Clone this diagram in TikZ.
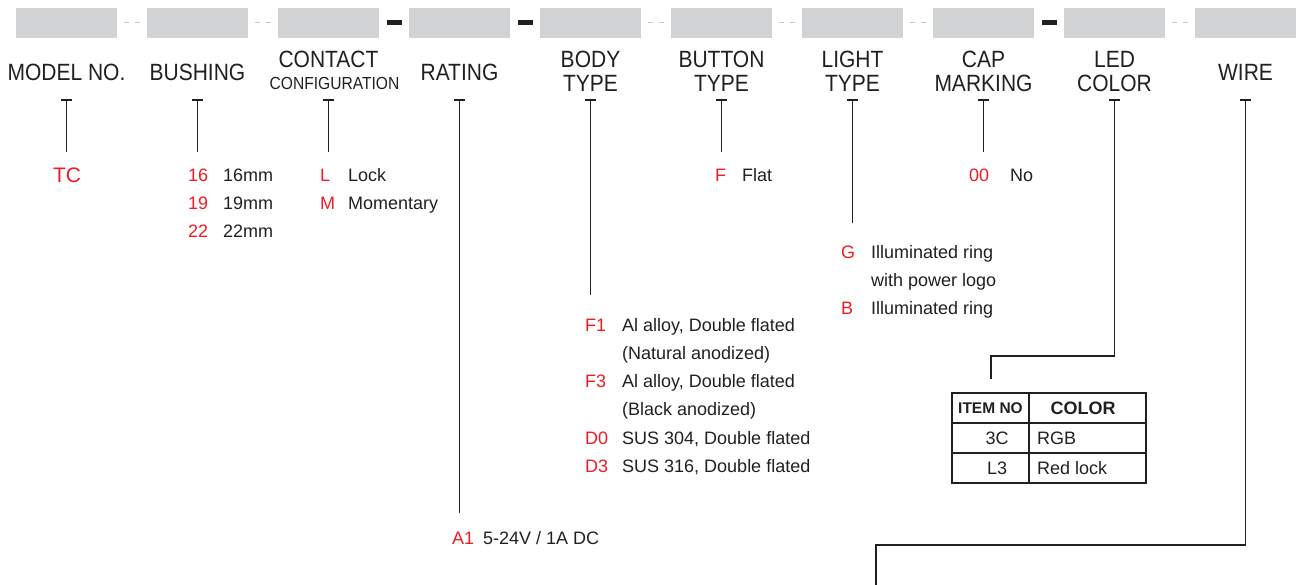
\documentclass[tikz,border=0pt]{standalone}
\usepackage{fontspec}
\setmainfont{Liberation Sans}
\definecolor{ink}{HTML}{231F20}
\definecolor{redc}{HTML}{ED1C24}
\definecolor{boxgray}{HTML}{D1D3D4}
\definecolor{dashgray}{HTML}{C7C8CA}
\tikzset{
  graybox/.style={fill=boxgray, draw=none, minimum width=101pt, minimum height=30pt, inner sep=0pt, outer sep=0pt},
  toplab/.style={anchor=base, inner sep=0pt, text=ink, font=\fontsize{21}{21.4}\selectfont},
  codetxt/.style={anchor=base west, inner sep=0pt, text=redc, font=\fontsize{18}{22}\selectfont},
  desctxt/.style={anchor=base west, inner sep=0pt, text=ink, font=\fontsize{18}{22}\selectfont},
  celltxt/.style={anchor=base, inner sep=0pt, text=ink, font=\fontsize{18}{22}\selectfont},
  lead/.style={draw=ink, line width=1.8pt, line join=miter},
  tbar/.style={draw=ink, line width=2.4pt},
  sepdash/.style={draw=dashgray, line width=1pt},
  sepbar/.style={fill=ink, draw=none},
}
\newcommand{\tall}[1]{\scalebox{1}[1.12]{#1}}
\newcommand{\twoline}[2]{\tall{\begin{tabular}[t]{@{}c@{}}#1\\#2\end{tabular}}}
\begin{document}
\begin{tikzpicture}[x=1pt,y=-1pt]
\useasboundingbox (0,0) rectangle (1299,585);
% gray boxes
\foreach \i in {0,...,9}{
  \node[graybox] (b\i) at ({66.5+131*\i},23) {};
}
% separators: dashed gaps
\foreach \i in {0,1,4,5,6,8}{
  \draw[sepdash] ({117+131*\i+7},23) -- ({117+131*\i+12},23);
  \draw[sepdash] ({117+131*\i+18},23) -- ({117+131*\i+23},23);
}
% separators: black bars
\foreach \i in {2,3,7}{
  \fill[sepbar] ({132+131*\i-7.5},20) rectangle ({132+131*\i+7.5},25.5);
}
% top labels
\node[toplab] (lab0) at (66.5,80.4) {\tall{MODEL NO.}};
\node[toplab] (lab1) at (197.5,80.4) {\tall{BUSHING}};
\node[toplab] (lab2) at (328.5,67.4) {\twoline{CONTACT}{[-1.9pt]\hspace*{12pt}\fontsize{15.6}{18}\selectfont CONFIGURATION}};
\node[toplab] (lab3) at (459.5,80.4) {\tall{RATING}};
\node[toplab] (lab4) at (590.5,67.4) {\twoline{BODY}{TYPE}};
\node[toplab] (lab5) at (721.5,67.4) {\twoline{BUTTON}{TYPE}};
\node[toplab] (lab6) at (852.5,67.4) {\twoline{LIGHT}{TYPE}};
\node[toplab] (lab7) at (983.5,67.4) {\twoline{CAP}{MARKING}};
\node[toplab] (lab8) at (1114.5,67.4) {\twoline{LED}{COLOR}};
\node[toplab] (lab9) at (1245.5,80.4) {\tall{WIRE}};
% T bars and leads
\foreach \i/\e in {0/152,1/152,2/152,3/513,4/295,5/152,6/223,7/152}{
  \coordinate (top\i) at ({66.5+131*\i},100);
  \coordinate (end\i) at ({66.5+131*\i},\e);
  \draw[tbar] ({66.5+131*\i-5.5},100) -- ({66.5+131*\i+5.5},100);
  \draw[lead] (top\i) -- (end\i);
}
\foreach \i in {8,9}{
  \coordinate (top\i) at ({66.5+131*\i},100);
  \draw[tbar] ({66.5+131*\i-5.5},100) -- ({66.5+131*\i+5.5},100);
}
\coordinate (led1) at (1114.5,356);
\coordinate (led2) at (991,356);
\coordinate (led3) at (991,379);
\draw[lead] (top8) -- (led1) -- (led2) -- (led3);
\coordinate (wire1) at (1245.5,545);
\coordinate (wire2) at (876,545);
\coordinate (wire3) at (876,590);
\draw[lead] (top9) -- (wire1) -- (wire2) -- (wire3);
% model
\node[anchor=base, inner sep=0pt, text=redc, font=\fontsize{21}{24}\selectfont] (tc) at (67,182.5) {TC};
% bushing
\node[codetxt] (c16) at (188,181.4) {16}; \node[desctxt] (d16) at (223,181.4) {16mm};
\node[codetxt] (c19) at (188,209.4) {19}; \node[desctxt] (d19) at (223,209.4) {19mm};
\node[codetxt] (c22) at (188,237.4) {22}; \node[desctxt] (d22) at (223,237.4) {22mm};
% contact
\node[codetxt] (cL) at (320,181.4) {L}; \node[desctxt] (dL) at (348,181.4) {Lock};
\node[codetxt] (cM) at (320,209.4) {M}; \node[desctxt] (dM) at (348,209.4) {Momentary};
% rating
\node[codetxt] (cA1) at (452,544.4) {A1}; \node[desctxt] (dA1) at (483,544.4) {5-24V / 1A DC};
% body
\node[codetxt] (cF1) at (585,331.4) {F1}; \node[desctxt] (dF1) at (622,331.4) {Al alloy, Double flated};
\node[desctxt] (dF1b) at (622,359.4) {(Natural anodized)};
\node[codetxt] (cF3) at (585,387.4) {F3}; \node[desctxt] (dF3) at (622,387.4) {Al alloy, Double flated};
\node[desctxt] (dF3b) at (622,415.4) {(Black anodized)};
\node[codetxt] (cD0) at (585,444.4) {D0}; \node[desctxt] (dD0) at (622,444.4) {SUS 304, Double flated};
\node[codetxt] (cD3) at (585,472.4) {D3}; \node[desctxt] (dD3) at (622,472.4) {SUS 316, Double flated};
% button
\node[codetxt] (cF) at (715,181.4) {F}; \node[desctxt] (dF) at (742,181.4) {Flat};
% light
\node[codetxt] (cG) at (841,258.4) {G}; \node[desctxt] (dG) at (871,258.4) {Illuminated ring};
\node[desctxt] (dGb) at (871,286.4) {with power logo};
\node[codetxt] (cB) at (841,314.4) {B}; \node[desctxt] (dB) at (871,314.4) {Illuminated ring};
% cap
\node[codetxt] (c00) at (969,181.4) {00}; \node[desctxt] (d00) at (1010,181.4) {No};
% table
\draw[draw=ink, line width=1.6pt] (952,393) rectangle (1146,483);
\draw[draw=ink, line width=1.4pt] (1029,393) -- (1029,483);
\draw[draw=ink, line width=1.4pt] (952,423) -- (1146,423);
\draw[draw=ink, line width=1.4pt] (952,453) -- (1146,453);
\node[anchor=base, inner sep=0pt, text=ink, font=\fontsize{15.5}{18}\selectfont\bfseries] (h1) at (990.5,413.6) {ITEM NO};
\node[anchor=base, inner sep=0pt, text=ink, font=\fontsize{18}{22}\selectfont\bfseries] (h2) at (1083,414.4) {COLOR};
\node[celltxt] (r1a) at (997,444.4) {3C};
\node[desctxt] (r1b) at (1037,444.4) {RGB};
\node[celltxt] (r2a) at (997,474.4) {L3};
\node[desctxt] (r2b) at (1037,474.4) {Red lock};
\end{tikzpicture}
\end{document}
